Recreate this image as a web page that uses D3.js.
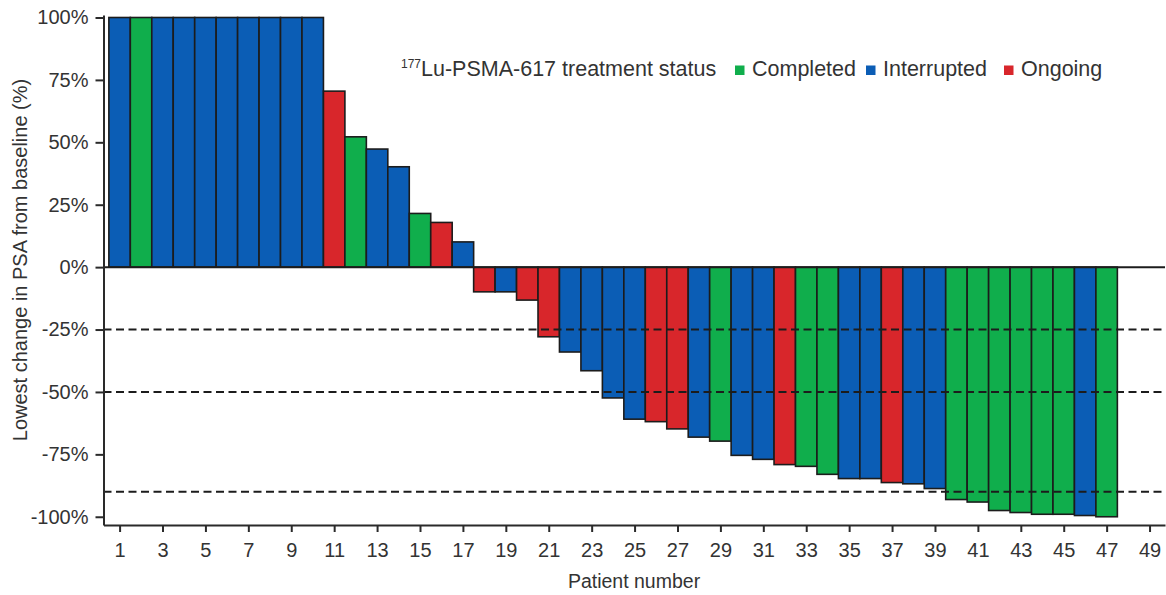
<!DOCTYPE html>
<html>
<head>
<meta charset="utf-8">
<script src="https://cdn.jsdelivr.net/npm/d3@7"></script>
<style>
  html, body { margin: 0; padding: 0; background: #fff; }
  svg { display: block; font-family: "Liberation Sans", Arial, sans-serif; }
</style>
</head>
<body>
<svg id="chart" width="1166" height="595"></svg>
<script>
// ---- data ----
const patients = d3.range(1, 48);
const lowestChange = [100,100,100,100,100,100,100,100,100,100,
  70.5,52.2,47.3,40.2,21.5,17.9,10.1,
  -9.9,-9.9,-13.2,-27.9,-34,-41.5,-52.4,-60.9,-61.9,-64.8,
  -68.1,-69.7,-75.4,-77,-79.1,-79.8,-83,-84.7,-84.7,-86.3,
  -86.8,-88.7,-93.1,-94.1,-97.5,-98.3,-99,-99,-99.5,-100];
const status = ["I","C","I","I","I","I","I","I","I","I",
  "O","C","I","I","C","O","I",
  "O","I","O","O","I","I","I","I","O","O",
  "I","C","I","I","O","C","C","I","I","O",
  "I","I","C","C","C","C","C","C","I","C"];
const statusKeys = ["C","I","O"];
const statusLabels = ["Completed","Interrupted","Ongoing"];
const statusColors = ["#10ae4c","#0b5db5","#d8262b"];
const yTicks = [100,75,50,25,0,-25,-50,-75,-100];
const xTicks = d3.range(1, 50, 2);
const thresholds = [-25,-50,-90];

// ---- scales ----
const svg = d3.select("#chart");
const x = d3.scaleLinear().domain([0.25, 49.72]).range([103.5, 1165]);
const y = d3.scaleLinear().domain([-103.3, 101]).range([525, 15]);
const color = d3.scaleOrdinal().domain(statusKeys).range(statusColors);
const bw = x(1) - x(0);

const data = patients.map((p, i) => ({p, v: lowestChange[i], s: status[i]}));

// bars
svg.append("g").selectAll("rect").data(data).join("rect")
  .attr("x", d => x(d.p) - bw/2)
  .attr("width", bw)
  .attr("y", d => y(Math.max(0, d.v)))
  .attr("height", d => Math.abs(y(d.v) - y(0)))
  .attr("fill", d => color(d.s))
  .attr("stroke", "#1c1c1c")
  .attr("stroke-width", 1.6);

// threshold dashed lines
svg.append("g").selectAll("line").data(thresholds).join("line")
  .attr("x1", x.range()[0]).attr("x2", x.range()[1])
  .attr("y1", d => y(d)).attr("y2", d => y(d))
  .attr("stroke", "#1c1c1c").attr("stroke-width", 2)
  .attr("stroke-dasharray", "8,4.5");

// zero line
svg.append("line")
  .attr("x1", x.range()[0]).attr("x2", x.range()[1])
  .attr("y1", y(0)).attr("y2", y(0))
  .attr("stroke", "#1c1c1c").attr("stroke-width", 2);

// axes
const yAxis = svg.append("g")
  .attr("transform", `translate(${x.range()[0]},0)`)
  .call(d3.axisLeft(y).tickValues(yTicks).tickFormat(d => d + "%").tickSize(8).tickSizeOuter(0).tickPadding(7));
const xAxis = svg.append("g")
  .attr("transform", `translate(0,${y.range()[0]})`)
  .call(d3.axisBottom(x).tickValues(xTicks).tickFormat(d3.format("d")).tickSize(7).tickSizeOuter(0).tickPadding(11));

[yAxis, xAxis].forEach(g => {
  g.select(".domain").attr("stroke", "#2a2a2a").attr("stroke-width", 2);
  g.selectAll(".tick line").attr("stroke", "#2a2a2a").attr("stroke-width", 2);
  g.selectAll(".tick text").attr("fill", "#333").style("font-size", "20px")
    .style("font-family", "'Liberation Sans', Arial, sans-serif");
});

// axis titles
svg.append("text")
  .attr("transform", "translate(27,260) rotate(-90)")
  .attr("text-anchor", "middle")
  .attr("fill", "#333").style("font-size", "20px")
  .text("Lowest change in PSA from baseline (%)");
svg.append("text")
  .attr("x", 634).attr("y", 588)
  .attr("text-anchor", "middle")
  .attr("fill", "#333").style("font-size", "19.5px")
  .text("Patient number");

// legend
const lg = svg.append("g");
const t = lg.append("text").attr("x", 401).attr("y", 76).attr("fill", "#333").style("font-size", "21.5px");
t.append("tspan").text("177").style("font-size", "12px").attr("dy", -8);
t.append("tspan").text("Lu-PSMA-617 treatment status").attr("dy", 8);

const legendX = [735, 866, 1004];
statusKeys.forEach((k, i) => {
  lg.append("rect").attr("x", legendX[i]).attr("y", 65.5).attr("width", 9.5).attr("height", 9.5)
    .attr("fill", color(k));
  lg.append("text").attr("x", legendX[i] + 17).attr("y", 76)
    .attr("fill", "#333").style("font-size", "21.5px").text(statusLabels[i]);
});
</script>
</body>
</html>
